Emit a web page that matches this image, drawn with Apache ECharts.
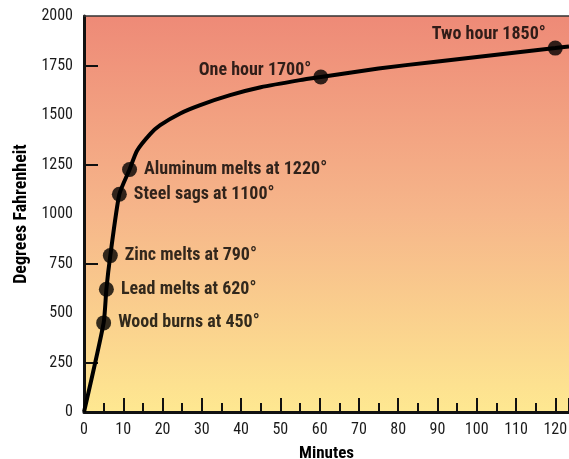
<!DOCTYPE html>
<html>
<head>
<meta charset="utf-8">
<script src="https://cdn.jsdelivr.net/npm/echarts@6/dist/echarts.min.js"></script>
<style>
  html, body { margin: 0; padding: 0; background: #fff; }
  #chart { width: 569px; height: 459px; }
</style>
</head>
<body>
<div id="chart"></div>
<script>
// fire curve (minutes, degrees F)
var curveMinutes = [0, 5, 5.7, 6.7, 9, 11.6, 13.5, 16.9, 19.4, 24.5, 29.6, 37.2, 45, 55, 60.3, 75, 89, 120, 123.5];
var curveTemps   = [0, 450, 620, 790, 1100, 1225, 1320, 1405, 1449, 1508, 1550, 1600, 1640, 1676, 1692, 1735, 1768, 1838, 1846];

// marked events
var eventNames   = ['Wood burns at 450°', 'Lead melts at 620°', 'Zinc melts at 790°', 'Steel sags at 1100°',
                    'Aluminum melts at 1220°', 'One hour 1700°', 'Two hour 1850°'];
var eventMinutes = [5, 5.7, 6.7, 9, 11.6, 60.3, 120];
var eventTemps   = [450, 620, 790, 1100, 1225, 1692, 1838];

var yTickLabels = [0, 250, 500, 750, 1000, 1250, 1500, 1750, 2000];
var yMinorTicks = [250, 750, 1250, 1750];

var FONT = "'Roboto Condensed', 'Liberation Sans Narrow', Roboto, sans-serif";

var curveData = curveMinutes.map(function (m, i) { return [m, curveTemps[i]]; });
var eventData = eventMinutes.map(function (m, i) {
  var item = { name: eventNames[i], value: [m, eventTemps[i]] };
  if (m >= 60) {
    item.label = { position: 'left', offset: m >= 120 ? [5, -14] : [5, -6] };
  }
  return item;
});

var myChart = echarts.init(document.getElementById('chart'));
myChart.setOption({
  animation: false,
  grid: {
    left: 84, right: 0, top: 16, bottom: 47,
    outerBoundsMode: 'none',
    show: true,
    borderWidth: 0,
    backgroundColor: new echarts.graphic.LinearGradient(0, 0, 0, 1, [
      { offset: 0, color: '#EE8A77' },
      { offset: 0.5, color: '#F6B68A' },
      { offset: 1, color: '#FEE891' }
    ])
  },
  xAxis: [{
    type: 'value',
    min: 0, max: 123.5, interval: 10,
    name: 'Minutes',
    nameLocation: 'middle',
    nameGap: 33,
    nameTextStyle: { fontFamily: FONT, fontWeight: 'bold', fontSize: 17, color: '#000' },
    axisLine: { show: true, lineStyle: { color: '#111', width: 3 } },
    axisTick: { show: true, inside: true, length: 14, lineStyle: { color: '#111', width: 2 } },
    minorTick: { show: true, splitNumber: 2, length: 9, lineStyle: { color: '#111', width: 2 } },
    splitLine: { show: false },
    axisLabel: {
      fontFamily: FONT, fontSize: 16, color: '#1a1a1a', margin: 10,
      showMaxLabel: false,
      formatter: function (v) { return String(v); }
    }
  }, {
    type: 'value', position: 'top',
    min: 0, max: 123.5,
    axisLine: { show: true, lineStyle: { color: '#333', width: 1.5 } },
    axisTick: { show: false }, axisLabel: { show: false }, splitLine: { show: false }
  }],
  yAxis: {
    type: 'value',
    min: 0, max: 2000, interval: 250,
    name: 'Degrees Fahrenheit',
    nameLocation: 'middle',
    nameGap: 54,
    nameTextStyle: { fontFamily: FONT, fontWeight: 'bold', fontSize: 18, color: '#000' },
    axisLine: { show: true, lineStyle: { color: '#111', width: 3 } },
    axisTick: { show: true, inside: true, length: 14, customValues: yMinorTicks, lineStyle: { color: '#111', width: 2 } },
    splitLine: { show: false },
    axisLabel: {
      fontFamily: FONT, fontSize: 16, color: '#1a1a1a', margin: 11,
      customValues: yTickLabels,
      formatter: function (v) { return String(v); }
    }
  },
  series: [{
    type: 'line',
    data: curveData,
    smooth: 0.2,
    showSymbol: false,
    lineStyle: { color: '#000', width: 4 },
    z: 3
  }, {
    type: 'scatter',
    data: eventData,
    symbolSize: 15,
    itemStyle: { color: '#000' },
    label: {
      show: true,
      position: 'right',
      distance: 7,
      formatter: '{b}',
      fontFamily: FONT, fontWeight: 'bold', fontSize: 18, color: '#000'
    },
    z: 4
  }]
});
</script>
</body>
</html>
